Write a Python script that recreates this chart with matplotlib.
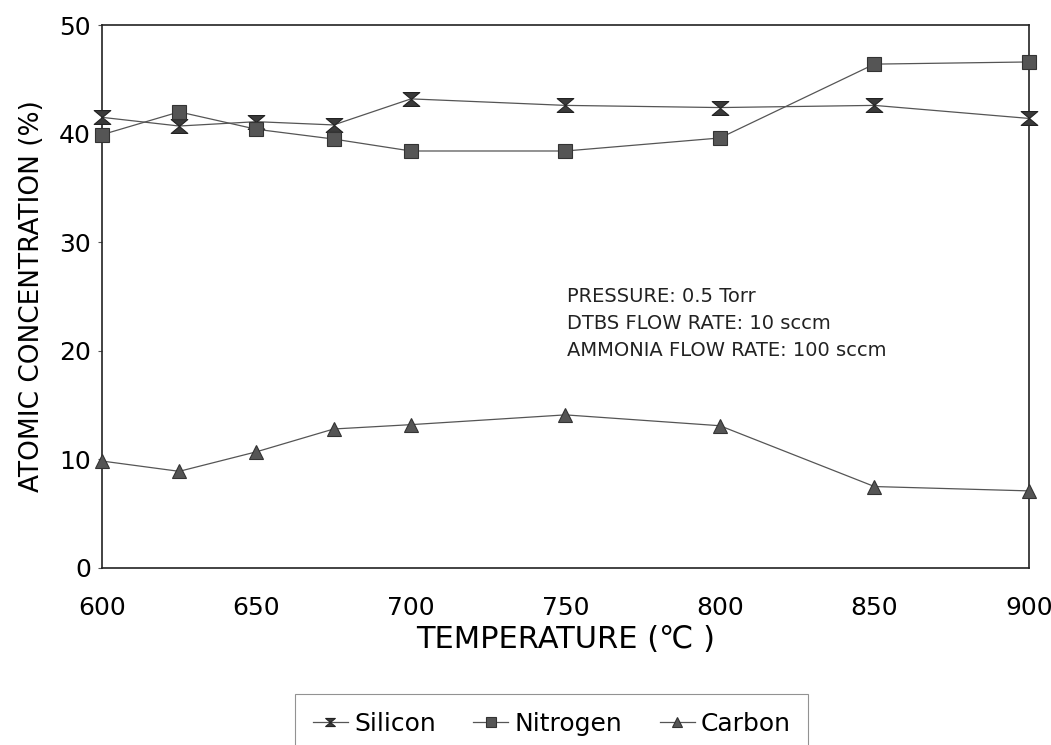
import matplotlib
matplotlib.use("Agg")
import matplotlib.pyplot as plt
from matplotlib.path import Path

temperature = [600, 625, 650, 675, 700, 750, 800, 850, 900]
silicon = [41.5, 40.7, 41.1, 40.8, 43.2, 42.6, 42.4, 42.6, 41.4]
nitrogen = [39.9, 42.0, 40.4, 39.5, 38.4, 38.4, 39.6, 46.4, 46.6]
carbon = [9.85, 8.9, 10.7, 12.8, 13.2, 14.1, 13.1, 7.5, 7.1]
yticks = [0, 10, 20, 30, 40, 50]
xticks = [600, 650, 700, 750, 800, 850, 900]
notes = ["PRESSURE: 0.5 Torr", "DTBS FLOW RATE: 10 sccm", "AMMONIA FLOW RATE: 100 sccm"]

plt.rcParams['font.family'] = ['DejaVu Sans']

fig = plt.figure(figsize=(10.51, 7.45), dpi=100)
ax = fig.add_axes([0.097, 0.2376, 0.882, 0.7288])

hourglass = Path([(-1.2, 1), (1.2, 1), (0, 0), (1.2, -1), (-1.2, -1), (0, 0), (-1.2, 1)],
                 [Path.MOVETO, Path.LINETO, Path.LINETO, Path.LINETO, Path.LINETO, Path.LINETO, Path.CLOSEPOLY])

lc = '#555555'
mc = '#3a3a3a'
ax.plot(temperature, silicon, color=lc, lw=0.9, marker=hourglass, ms=12,
        mfc=mc, mec='#222222', mew=0.8, label='Silicon', clip_on=False, zorder=3)
ax.plot(temperature, nitrogen, color=lc, lw=0.9, marker='s', ms=10,
        mfc='#555555', mec='#333333', mew=0.8, label='Nitrogen', clip_on=False, zorder=3)
ax.plot(temperature, carbon, color=lc, lw=0.9, marker='^', ms=10,
        mfc='#555555', mec='#333333', mew=0.8, label='Carbon', clip_on=False, zorder=3)

ax.set_xlim(600, 900)
ax.set_ylim(0, 50)
ax.set_xticks(xticks)
ax.set_yticks(yticks)
ax.tick_params(axis='both', labelsize=18, length=3, width=0.8, color='#555555', pad=5)
ax.tick_params(axis='x', length=0, pad=20)
for s in ax.spines.values():
    s.set_linewidth(1.2)
    s.set_color('#222222')

ax.set_xlabel('TEMPERATURE (℃ )', fontsize=22, labelpad=4)
ax.set_ylabel('ATOMIC CONCENTRATION (%)', fontsize=19, labelpad=10)

for i, t in enumerate(notes):
    ax.text(750.5, 25.0 - i * 2.5, t, fontsize=14, va='center', ha='left', color='#222222')

leg = fig.legend(loc='upper center', bbox_to_anchor=(0.525, 0.085), ncol=3,
                 fontsize=18, frameon=True, fancybox=False, handlelength=1.4,
                 handletextpad=0.25, columnspacing=1.5, borderpad=0.7)
leg.get_frame().set_edgecolor('#777777')
leg.get_frame().set_linewidth(0.8)
for h in leg.legend_handles:
    h.set_markersize(7)

fig.savefig('out.png', dpi=100)
